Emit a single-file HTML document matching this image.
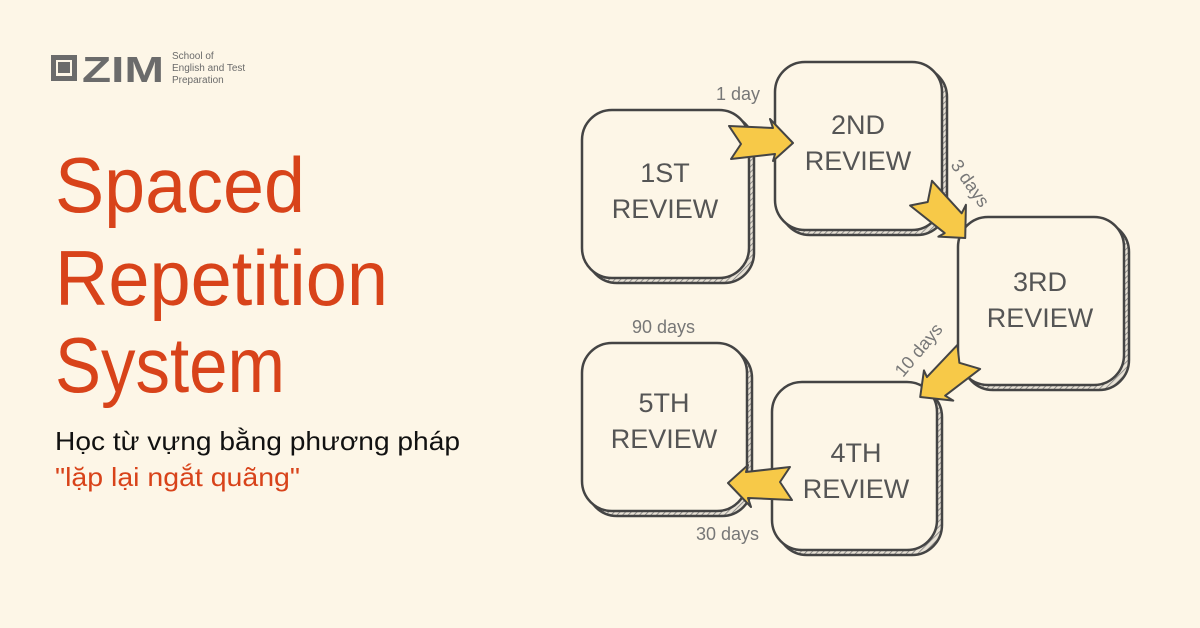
<!DOCTYPE html>
<html><head><meta charset="utf-8"><style>
html,body{margin:0;padding:0;background:#fdf6e7;}
svg{display:block}
</style></head><body>
<svg width="1200" height="628" viewBox="0 0 1200 628" xmlns="http://www.w3.org/2000/svg" font-family="Liberation Sans, DejaVu Sans, sans-serif">
<defs>
<pattern id="h" width="4" height="4" patternUnits="userSpaceOnUse" patternTransform="rotate(45)">
<rect width="4" height="4" fill="#e8e2d6"/><line x1="0" y1="0" x2="0" y2="4" stroke="#777" stroke-width="1.5"/>
</pattern>
<polygon id="arr" points="-32,-15 12,-13 9,-22 32,2 12,20 14,13 -30,18 -20,3" fill="#f7c948" stroke="#444" stroke-width="2" stroke-linejoin="round"/>
</defs>
<rect width="1200" height="628" fill="#fdf6e7"/>
<!-- logo -->
<rect x="51" y="55" width="26" height="26" fill="#6b6b6b"/>
<rect x="56" y="60" width="16" height="16" fill="#fdf6e7"/>
<rect x="58" y="62" width="12" height="11" fill="#6b6b6b"/>
<text x="82" y="82" font-size="36" font-weight="bold" fill="#6b6b6b" textLength="82" lengthAdjust="spacingAndGlyphs">ZIM</text>
<text x="172" y="59" font-size="10" fill="#6b6b6b">School of</text>
<text x="172" y="71" font-size="10" fill="#6b6b6b">English and Test</text>
<text x="172" y="83" font-size="10" fill="#6b6b6b">Preparation</text>
<!-- title -->
<g fill="#d8431a">
<text x="55" y="212" font-size="78" textLength="250" lengthAdjust="spacingAndGlyphs">Spaced</text>
<text x="55" y="305" font-size="78" textLength="333" lengthAdjust="spacingAndGlyphs">Repetition</text>
<text x="55" y="392" font-size="78" textLength="230" lengthAdjust="spacingAndGlyphs">System</text>
</g>
<text x="55" y="450" font-size="26" fill="#111" textLength="405" lengthAdjust="spacingAndGlyphs">Học từ vựng bằng phương pháp</text>
<text x="55" y="486" font-size="26" fill="#d8431a" textLength="245" lengthAdjust="spacingAndGlyphs">"lặp lại ngắt quãng"</text>
<!-- boxes -->
<g stroke="#444" stroke-width="2.5">
<rect x="587" y="115" width="167" height="168" rx="30" fill="url(#h)"/>
<rect x="582" y="110" width="167" height="168" rx="30" fill="#fdf6e7"/>
<rect x="780" y="67" width="167" height="168" rx="30" fill="url(#h)"/>
<rect x="775" y="62" width="167" height="168" rx="30" fill="#fdf6e7"/>
<rect x="963" y="222" width="166" height="168" rx="30" fill="url(#h)"/>
<rect x="958" y="217" width="166" height="168" rx="30" fill="#fdf6e7"/>
<rect x="777" y="387" width="165" height="168" rx="30" fill="url(#h)"/>
<rect x="772" y="382" width="165" height="168" rx="30" fill="#fdf6e7"/>
<rect x="587" y="348" width="165" height="168" rx="30" fill="url(#h)"/>
<rect x="582" y="343" width="165" height="168" rx="30" fill="#fdf6e7"/>
</g>
<g fill="#555" font-size="27" text-anchor="middle">
<text x="665" y="182">1ST</text><text x="665" y="218">REVIEW</text>
<text x="858" y="134">2ND</text><text x="858" y="170">REVIEW</text>
<text x="1040" y="291">3RD</text><text x="1040" y="327">REVIEW</text>
<text x="856" y="462">4TH</text><text x="856" y="498">REVIEW</text>
<text x="664" y="412">5TH</text><text x="664" y="448">REVIEW</text>
</g>
<!-- arrows -->
<use href="#arr" transform="translate(761,141)"/>
<use href="#arr" transform="translate(944,214) rotate(45)"/>
<use href="#arr" transform="translate(946,378) rotate(140)"/>
<use href="#arr" transform="translate(760,485) rotate(180)"/>
<!-- labels -->
<g fill="#777" font-size="18">
<text x="716" y="100">1 day</text>
<text x="0" y="0" transform="translate(950,165) rotate(55)">3 days</text>
<text x="0" y="0" transform="translate(903,378) rotate(-50)">10 days</text>
<text x="632" y="333">90 days</text>
<text x="696" y="540">30 days</text>
</g>
</svg>
</body></html>
